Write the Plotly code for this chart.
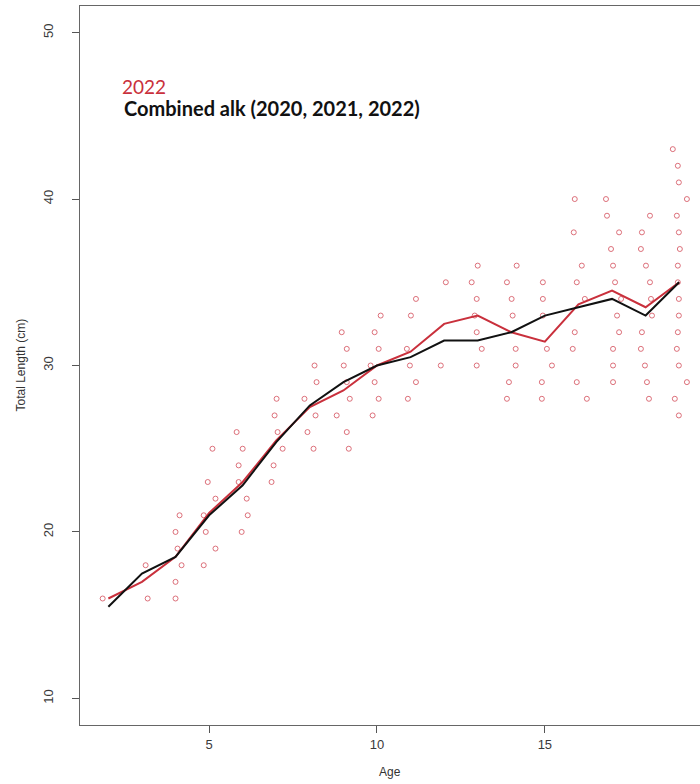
import plotly.graph_objects as go

# Individual fish from the 2022 sample (age jittered horizontally, length in cm)
point_age = [
    1.83,
    3.11, 3.17,
    4.00, 4.00, 4.18, 4.06, 4.00, 4.12,
    4.84, 5.19, 4.90, 4.84, 5.19, 4.96, 5.10,
    5.97, 6.15, 6.12, 5.88, 5.88, 6.00, 5.82,
    6.86, 6.92, 7.19, 7.04, 6.95, 7.01,
    8.11, 7.93, 8.17, 7.84, 8.20, 8.14,
    9.16, 9.10, 8.80, 9.19, 9.10, 9.01, 9.10, 8.95,
    9.87, 10.05, 9.93, 9.81, 10.05, 9.93, 10.11,
    10.92, 11.16, 10.98, 10.89, 11.01, 11.16,
    11.90, 12.05,
    12.97, 13.12, 12.97, 12.91, 12.97, 12.82, 13.00,
    13.87, 13.93, 14.13, 14.13, 14.04, 14.01, 13.87, 14.16,
    14.91, 14.91, 15.21, 15.06, 14.94, 14.94, 14.94,
    16.25, 15.95, 15.83, 15.89, 16.19, 15.95, 16.10, 15.86, 15.89,
    17.03, 17.03, 17.03, 17.21, 17.15, 17.27, 17.09, 17.03, 16.97, 17.21, 16.85, 16.82,
    18.10, 18.04, 17.98, 17.86, 17.89, 18.19, 18.16, 18.13, 18.01, 17.86, 17.89, 18.13,
    18.99, 18.87, 19.23, 18.99, 18.93, 18.96, 18.99, 18.99, 18.96, 18.96, 19.02, 18.99,
    18.93, 19.23, 18.99, 18.96, 18.81,
]
point_length = [
    16,
    18, 16,
    16, 17, 18, 19, 20, 21,
    18, 19, 20, 21, 22, 23, 25,
    20, 21, 22, 23, 24, 25, 26,
    23, 24, 25, 26, 27, 28,
    25, 26, 27, 28, 29, 30,
    25, 26, 27, 28, 29, 30, 31, 32,
    27, 28, 29, 30, 31, 32, 33,
    28, 29, 30, 31, 33, 34,
    30, 35,
    30, 31, 32, 33, 34, 35, 36,
    28, 29, 30, 31, 33, 34, 35, 36,
    28, 29, 30, 31, 33, 34, 35,
    28, 29, 31, 32, 34, 35, 36, 38, 40,
    29, 30, 31, 32, 33, 34, 35, 36, 37, 38, 39, 40,
    28, 29, 30, 31, 32, 33, 34, 35, 36, 37, 38, 39,
    27, 28, 29, 30, 31, 32, 33, 34, 35, 36, 37, 38,
    39, 40, 41, 42, 43,
]

# Mean length at age
ages = [2, 3, 4, 5, 6, 7, 8, 9, 10, 11, 12, 13, 14, 15, 16, 17, 18, 19]
mean_2022 = [16, 17, 18.5, 21.14, 23, 25.5, 27.5, 28.5, 30, 30.83,
             32.5, 33, 32, 31.43, 33.67, 34.5, 33.5, 35]
mean_combined = [15.5, 17.5, 18.5, 21, 22.8, 25.4, 27.6, 29, 30, 30.5,
                 31.5, 31.5, 32, 33, 33.5, 34, 33, 35]

x_ticks = [5, 10, 15]
y_ticks = [10, 20, 30, 40, 50]

fig = go.Figure()

fig.add_trace(go.Scatter(
    x=point_age, y=point_length, mode="markers",
    marker=dict(symbol="circle-open", size=5, color="rgba(214,88,100,0.85)",
                line=dict(width=1)),
    showlegend=False, hoverinfo="skip",
))
fig.add_trace(go.Scatter(
    x=ages, y=mean_2022, mode="lines",
    line=dict(color="#c9303c", width=2), showlegend=False,
))
fig.add_trace(go.Scatter(
    x=ages, y=mean_combined, mode="lines",
    line=dict(color="#111111", width=2), showlegend=False,
))

axis_font = dict(family="Liberation Sans, Arial, sans-serif", size=13, color="#3a3a3a")

fig.update_layout(
    width=700, height=784,
    margin=dict(l=80, r=0, t=6, b=59),
    paper_bgcolor="white", plot_bgcolor="white",
    xaxis=dict(
        range=[1.155, 19.62], tickvals=x_ticks, ticks="outside", ticklen=7,
        tickcolor="#555555", showline=True, linecolor="#666666", linewidth=1,
        mirror=True, showgrid=False, zeroline=False, tickfont=axis_font,
    ),
    yaxis=dict(
        range=[8.4, 51.6], tickvals=y_ticks, ticks="outside", ticklen=7,
        tickcolor="#555555", showline=True, linecolor="#666666", linewidth=1,
        showgrid=False, zeroline=False, tickangle=-90, tickfont=axis_font,
        ticklabelstandoff=14,
    ),
    annotations=[
        dict(text="Age", xref="paper", yref="paper", x=0.5, y=-47 / 719,
             xanchor="center", yanchor="middle", showarrow=False,
             font=dict(family="Liberation Sans, Arial, sans-serif", size=12, color="#333333")),
        dict(text="Total Length (cm)", xref="paper", yref="paper", x=-60 / 620, y=0.5,
             xanchor="center", yanchor="middle", textangle=-90, showarrow=False,
             font=dict(family="Liberation Sans, Arial, sans-serif", size=12, color="#333333")),
        dict(text="2022", xref="paper", yref="paper", x=40 / 620, y=1 - 81 / 719,
             xanchor="left", yanchor="middle", showarrow=False,
             font=dict(family="Lato, sans-serif", size=19, color="#c9303c")),
        dict(text="<b>Combined alk (2020, 2021, 2022)</b>", xref="paper", yref="paper",
             x=42 / 620, y=1 - 102 / 719, xanchor="left", yanchor="middle", showarrow=False,
             font=dict(family="Lato, sans-serif", size=20, color="#111111")),
    ],
)

fig.write_html("out.html")
